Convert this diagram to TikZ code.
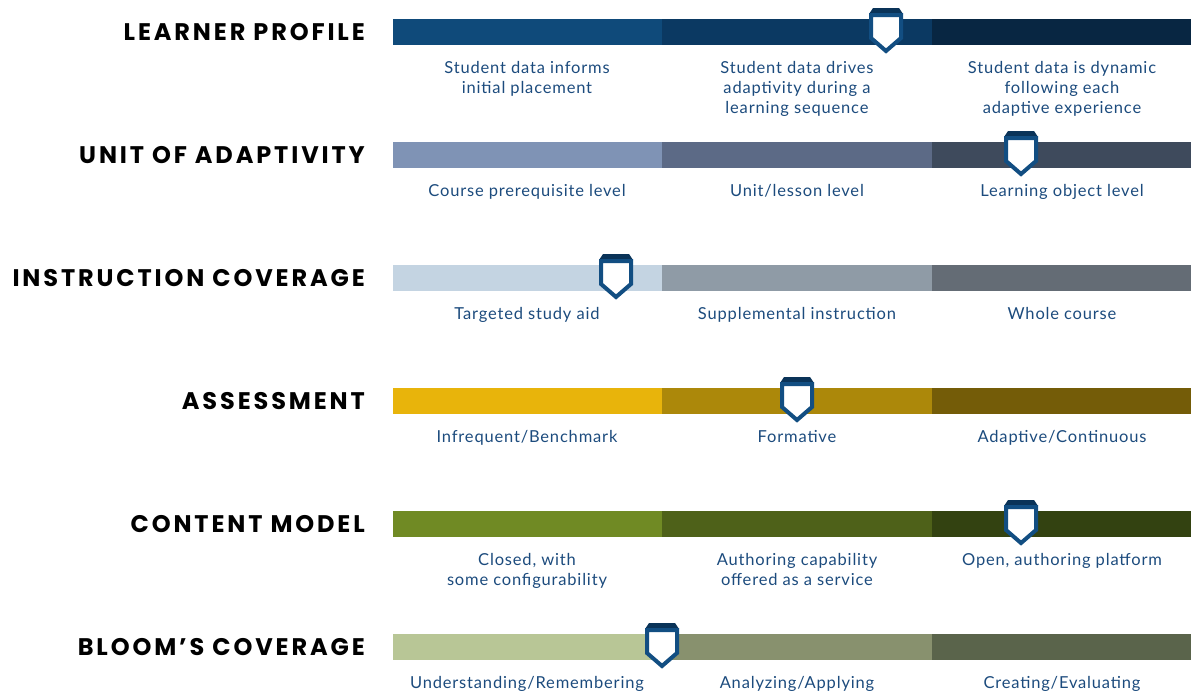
\documentclass[tikz,border=0pt]{standalone}
\usepackage{fontspec}
\setmainfont{Lato}[LetterSpace=5]
\newfontfamily\headfont{Poppins}[LetterSpace=12]
\usetikzlibrary{positioning}
\definecolor{lpA}{HTML}{0F4A7A}
\definecolor{lpB}{HTML}{0B3962}
\definecolor{lpC}{HTML}{082642}
\definecolor{uoA}{HTML}{7F93B5}
\definecolor{uoB}{HTML}{5C6A86}
\definecolor{uoC}{HTML}{3E4A5C}
\definecolor{icA}{HTML}{C4D4E2}
\definecolor{icB}{HTML}{8F9BA6}
\definecolor{icC}{HTML}{646C75}
\definecolor{asA}{HTML}{E8B40B}
\definecolor{asB}{HTML}{AC880A}
\definecolor{asC}{HTML}{745C08}
\definecolor{cmA}{HTML}{708A24}
\definecolor{cmB}{HTML}{4E6119}
\definecolor{cmC}{HTML}{334211}
\definecolor{blA}{HTML}{B8C696}
\definecolor{blB}{HTML}{88916E}
\definecolor{blC}{HTML}{5A644B}
\definecolor{labelblue}{HTML}{1C4B7D}
\definecolor{capnavy}{HTML}{0A3358}
\definecolor{shieldblue}{HTML}{124E82}
\tikzset{
    rowtitle/.style = {anchor=east, inner sep=0pt, font=\headfont\bfseries\fontsize{24}{26}\selectfont},
    seglabel/.style = {anchor=north, inner sep=0pt, align=center, text=labelblue, font=\fontsize{16.5}{20}\selectfont},
    badge/.pic = {
        \fill[capnavy] (-13,-11) -- (13,-11) -- (17,-5) -- (-17,-5) -- cycle;
        \filldraw[fill=white, draw=shieldblue, line width=4pt, line join=miter]
            (-15,-4) -- (15,-4) -- (15,19) -- (0,32) -- (-15,19) -- cycle;
    }
}
\begin{document}
\begin{tikzpicture}[x=1pt, y=-1pt]
\useasboundingbox (0,0) rectangle (1191,691);
%
% learner profile
\fill[lpA] (393,19) rectangle (662,45);
\fill[lpB] (662,19) rectangle (932,45);
\fill[lpC] (932,19) rectangle (1191,45);
\node[rowtitle] (lp) at (365,32) {LEARNER PROFILE};
\node[seglabel] (lp1) at (527,61) {Student data informs\\initial placement};
\node[seglabel] (lp2) at (797,61) {Student data drives\\adaptivity during a\\learning sequence};
\node[seglabel] (lp3) at (1062,61) {Student data is dynamic\\following each\\adaptive experience};
\pic at (886,19) {badge};
%
% unit of adaptivity
\fill[uoA] (393,142) rectangle (662,168);
\fill[uoB] (662,142) rectangle (932,168);
\fill[uoC] (932,142) rectangle (1191,168);
\node[rowtitle] (uo) at (365,155) {UNIT OF ADAPTIVITY};
\node[seglabel] (uo1) at (527,184) {Course prerequisite level};
\node[seglabel] (uo2) at (797,184) {Unit/lesson level};
\node[seglabel] (uo3) at (1062,184) {Learning object level};
\pic at (1021,142) {badge};
%
% instruction coverage
\fill[icA] (393,265) rectangle (662,291);
\fill[icB] (662,265) rectangle (932,291);
\fill[icC] (932,265) rectangle (1191,291);
\node[rowtitle] (ic) at (365,278) {INSTRUCTION COVERAGE};
\node[seglabel] (ic1) at (527,307) {Targeted study aid};
\node[seglabel] (ic2) at (797,307) {Supplemental instruction};
\node[seglabel] (ic3) at (1062,307) {Whole course};
\pic at (616,265) {badge};
%
% assessment
\fill[asA] (393,388) rectangle (662,414);
\fill[asB] (662,388) rectangle (932,414);
\fill[asC] (932,388) rectangle (1191,414);
\node[rowtitle] (as) at (365,401) {ASSESSMENT};
\node[seglabel] (as1) at (527,430) {Infrequent/Benchmark};
\node[seglabel] (as2) at (797,430) {Formative};
\node[seglabel] (as3) at (1062,430) {Adaptive/Continuous};
\pic at (797,388) {badge};
%
% content model
\fill[cmA] (393,511) rectangle (662,537);
\fill[cmB] (662,511) rectangle (932,537);
\fill[cmC] (932,511) rectangle (1191,537);
\node[rowtitle] (cm) at (365,524) {CONTENT MODEL};
\node[seglabel] (cm1) at (527,553) {Closed, with\\some configurability};
\node[seglabel] (cm2) at (797,553) {Authoring capability\\offered as a service};
\node[seglabel] (cm3) at (1062,553) {Open, authoring platform};
\pic at (1021,511) {badge};
%
% bloom's coverage
\fill[blA] (393,634) rectangle (662,660);
\fill[blB] (662,634) rectangle (932,660);
\fill[blC] (932,634) rectangle (1191,660);
\node[rowtitle] (bl) at (365,647) {BLOOM’S COVERAGE};
\node[seglabel] (bl1) at (527,676) {Understanding/Remembering};
\node[seglabel] (bl2) at (797,676) {Analyzing/Applying};
\node[seglabel] (bl3) at (1062,676) {Creating/Evaluating};
\pic at (662,634) {badge};
\end{tikzpicture}
\end{document}
